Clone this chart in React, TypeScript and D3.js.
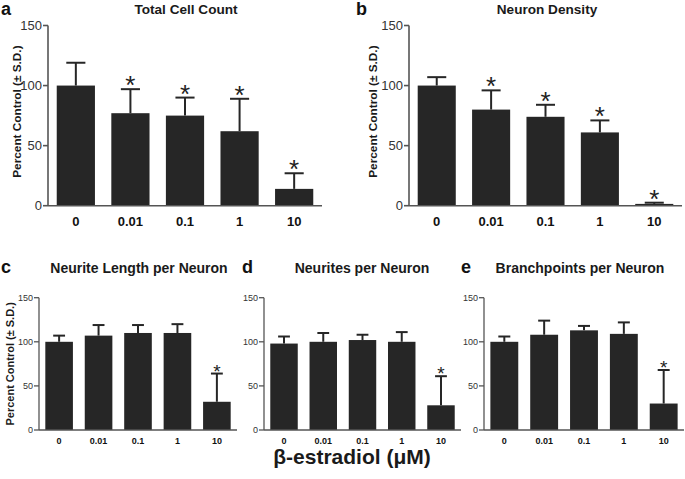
import React from "react";
import * as d3 from "d3";

const categories = ["0", "0.01", "0.1", "1", "10"];
const yTicks = [0, 50, 100, 150];

const totalCellMean = [100, 77, 75, 62, 14];
const totalCellSD = [19, 20, 15, 27, 13];
const totalCellSig = [false, true, true, true, true];

const neuronDensityMean = [100, 80, 74, 61, 1.5];
const neuronDensitySD = [7, 16, 10, 10, 1];
const neuronDensitySig = [false, true, true, true, true];

const neuriteLengthMean = [100, 107, 110, 110, 32];
const neuriteLengthSD = [7, 12, 9, 10, 32];
const neuriteLengthSig = [false, false, false, false, true];

const neuritesMean = [98, 100, 102, 100, 28];
const neuritesSD = [8, 10, 6, 11, 33];
const neuritesSig = [false, false, false, false, true];

const branchMean = [100, 108, 113, 109, 30];
const branchSD = [6, 16, 5, 13, 38];
const branchSig = [false, false, false, false, true];

const FONT = "'Liberation Sans', Arial, Helvetica, sans-serif";
const BAR = "#262626";
const AXIS = "#555";

type PanelProps = {
  letter: string;
  title: string;
  mean: number[];
  sd: number[];
  sig: boolean[];
  x0: number;
  x1: number;
  yTop: number;
  yBot: number;
  big: boolean;
  letterX: number;
  letterY: number;
  titleX: number;
  titleY: number;
  ylabel: boolean;
  ylabelX: number;
};

function Panel(p: PanelProps) {
  const x = d3
    .scaleBand<string>()
    .domain(categories)
    .range([p.x0, p.x1])
    .paddingInner(0.3)
    .paddingOuter(0.16);
  const y = d3.scaleLinear().domain([0, 150]).range([p.yBot, p.yTop]);
  const bw = x.bandwidth();
  const capW = p.big ? bw * 0.5 : bw * 0.43;
  const tickFs = p.big ? 13 : 9;
  const xFs = p.big ? 13 : 9;
  const starFs = p.big ? 26 : 19;
  const sw = p.big ? 1.6 : 1.3;
  const ylCenter = (p.yTop + p.yBot) / 2 - (p.big ? 4 : 0);
  return (
    <g>
      <text x={p.letterX} y={p.letterY} fontFamily={FONT} fontWeight="bold" fontSize={18} fill="#111">
        {p.letter}
      </text>
      <text
        x={p.titleX}
        y={p.titleY}
        textAnchor="middle"
        fontFamily={FONT}
        fontWeight="bold"
        fontSize={p.big ? 13.6 : 14}
        fill="#1a1a1a"
      >
        {p.title}
      </text>
      {p.ylabel && (
        <text
          transform={`translate(${p.ylabelX},${ylCenter}) rotate(-90)`}
          textAnchor="middle"
          fontFamily={FONT}
          fontWeight="bold"
          fontSize={p.big ? 11.8 : 11}
          fill="#1a1a1a"
        >
          Percent Control (± S.D.)
        </text>
      )}
      {categories.map((c, i) => {
        const bx = x(c)!;
        const top = y(p.mean[i]);
        const et = y(p.mean[i] + p.sd[i]);
        const cx = bx + bw / 2;
        return (
          <g key={c}>
            <rect x={bx} y={top} width={bw} height={p.yBot - top} fill={BAR} />
            <line x1={cx} x2={cx} y1={top} y2={et} stroke={BAR} strokeWidth={2} />
            <line x1={cx - capW / 2} x2={cx + capW / 2} y1={et} y2={et} stroke={BAR} strokeWidth={2} />
            {p.sig[i] && (
              <text
                x={cx}
                y={et + (p.big ? 5 : 4)}
                textAnchor="middle"
                fontFamily={FONT}
                fontSize={starFs}
                fill="#222"
              >
                *
              </text>
            )}
            <text
              x={cx}
              y={p.yBot + (p.big ? 20 : 13.5)}
              textAnchor="middle"
              fontFamily={FONT}
              fontWeight="bold"
              fontSize={xFs}
              fill="#111"
            >
              {c}
            </text>
          </g>
        );
      })}
      <line x1={p.x0} x2={p.x0} y1={p.yTop} y2={p.yBot} stroke={AXIS} strokeWidth={sw} />
      <line x1={p.x0} x2={p.x1} y1={p.yBot} y2={p.yBot} stroke={AXIS} strokeWidth={sw} />
      {yTicks.map((t) => (
        <g key={t}>
          <line x1={p.x0 - 5} x2={p.x0} y1={y(t)} y2={y(t)} stroke={AXIS} strokeWidth={sw} />
          <text
            x={p.x0 - 6}
            y={y(t)}
            dy="0.35em"
            textAnchor="end"
            fontFamily={FONT}
            fontSize={tickFs}
            fill="#333"
          >
            {t}
          </text>
        </g>
      ))}
    </g>
  );
}

export default function App() {
  return (
    <svg
      width={685}
      height={479}
      style={{ position: "absolute", left: 0, top: 0, background: "#fff" }}
    >
      <rect width={685} height={479} fill="#fff" />
      <Panel
        letter="a"
        title="Total Cell Count"
        mean={totalCellMean}
        sd={totalCellSD}
        sig={totalCellSig}
        x0={48}
        x1={322}
        yTop={25.5}
        yBot={205.7}
        big={true}
        letterX={1}
        letterY={15}
        titleX={186}
        titleY={14}
        ylabel={true}
        ylabelX={21}
      />
      <Panel
        letter="b"
        title="Neuron Density"
        mean={neuronDensityMean}
        sd={neuronDensitySD}
        sig={neuronDensitySig}
        x0={409}
        x1={682}
        yTop={25.5}
        yBot={205.7}
        big={true}
        letterX={356}
        letterY={15}
        titleX={547}
        titleY={14}
        ylabel={true}
        ylabelX={377}
      />
      <Panel
        letter="c"
        title="Neurite Length per Neuron"
        mean={neuriteLengthMean}
        sd={neuriteLengthSD}
        sig={neuriteLengthSig}
        x0={39}
        x1={237}
        yTop={297.7}
        yBot={430}
        big={false}
        letterX={1}
        letterY={273}
        titleX={139}
        titleY={273}
        ylabel={true}
        ylabelX={14}
      />
      <Panel
        letter="d"
        title="Neurites per Neuron"
        mean={neuritesMean}
        sd={neuritesSD}
        sig={neuritesSig}
        x0={264}
        x1={461}
        yTop={297.7}
        yBot={430}
        big={false}
        letterX={242}
        letterY={273}
        titleX={362}
        titleY={273}
        ylabel={false}
        ylabelX={0}
      />
      <Panel
        letter="e"
        title="Branchpoints per Neuron"
        mean={branchMean}
        sd={branchSD}
        sig={branchSig}
        x0={484}
        x1={684}
        yTop={297.7}
        yBot={430}
        big={false}
        letterX={461}
        letterY={273}
        titleX={580}
        titleY={273}
        ylabel={false}
        ylabelX={0}
      />
      <text
        x={352}
        y={464}
        textAnchor="middle"
        fontFamily={FONT}
        fontWeight="bold"
        fontSize={21}
        fill="#1a1a1a"
      >
        β-estradiol (μM)
      </text>
    </svg>
  );
}
